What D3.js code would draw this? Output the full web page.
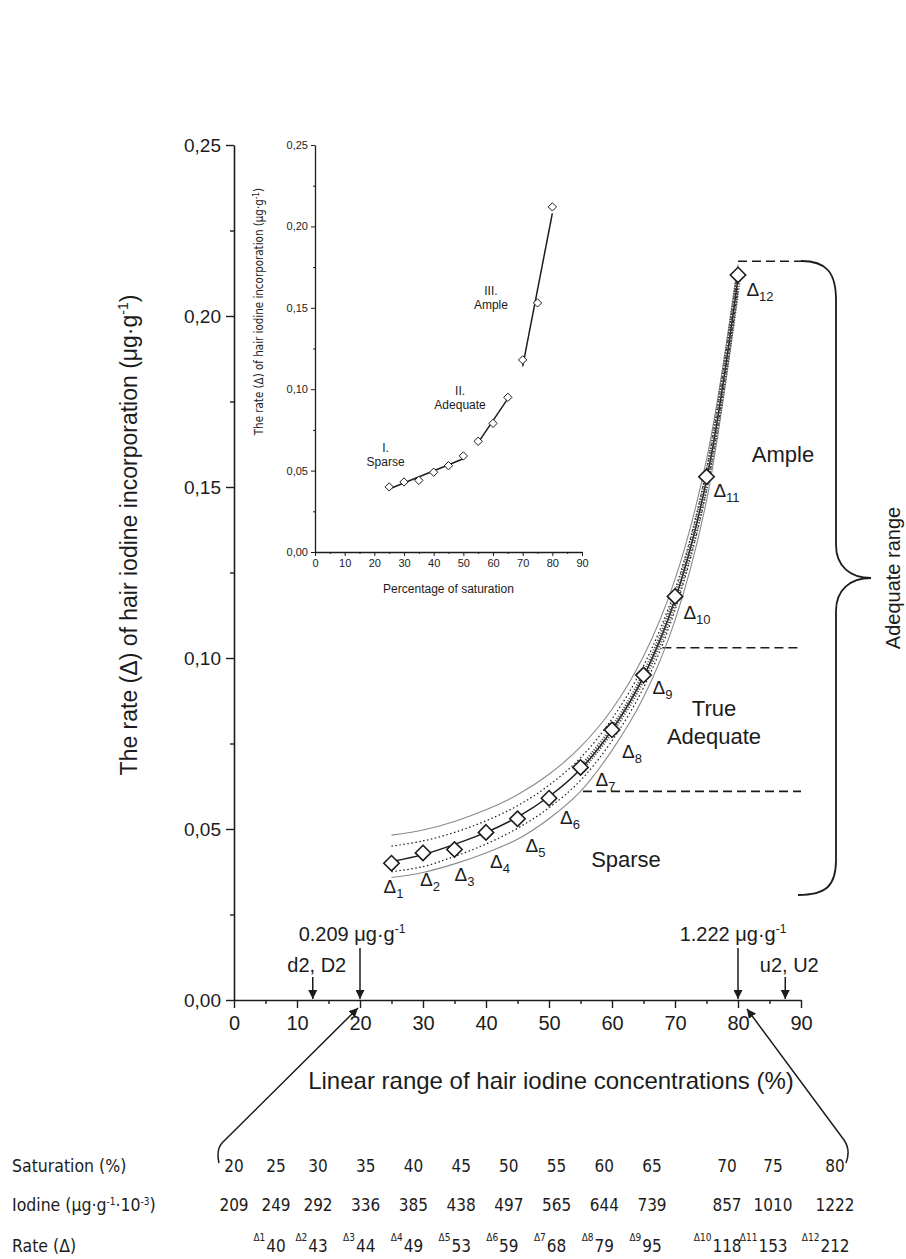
<!DOCTYPE html>
<html>
<head>
<meta charset="utf-8">
<script src="https://cdn.jsdelivr.net/npm/d3@7"></script>
<style>
  body { margin: 0; background: #fff; }
  svg { display: block; font-family: "Liberation Sans", Arial, sans-serif; }
</style>
</head>
<body>
<svg id="chart" width="906" height="1259"></svg>
<script>
// ---- data ----
const saturation = [25, 30, 35, 40, 45, 50, 55, 60, 65, 70, 75, 80];
const rate = [0.040, 0.043, 0.044, 0.049, 0.053, 0.059, 0.068, 0.079, 0.095, 0.118, 0.153, 0.212];
const fitRate = [0.0405, 0.0425, 0.0455, 0.049, 0.0535, 0.0595, 0.0675, 0.079, 0.0945, 0.117, 0.152, 0.211];
const outerUpper = [0.0482, 0.0497, 0.0522, 0.0556, 0.0600, 0.0660, 0.0740, 0.0850, 0.1005, 0.1230, 0.1580, 0.2150];
const innerUpper = [0.0450, 0.0465, 0.0490, 0.0524, 0.0568, 0.0628, 0.0708, 0.0822, 0.0977, 0.1200, 0.1550, 0.2135];
const innerLower = [0.0375, 0.0390, 0.0420, 0.0456, 0.0502, 0.0562, 0.0642, 0.0758, 0.0913, 0.1140, 0.1490, 0.2085];
const outerLower = [0.0358, 0.0373, 0.0398, 0.0430, 0.0470, 0.0530, 0.0610, 0.0730, 0.0885, 0.1110, 0.1460, 0.2070];

const yTicks = [0, 0.05, 0.10, 0.15, 0.20, 0.25];
const yMinor = [0.025, 0.075, 0.125, 0.175, 0.225];
const xTicks = [0, 10, 20, 30, 40, 50, 60, 70, 80, 90];
const xMinor = [5, 15, 25, 35, 45, 55, 65, 75, 85];

// zone boundaries (dashed), each starts on the curve
const zoneRate = [0.061, 0.103, 0.216];
const zoneFrom = [55.4, 68, 80];

// arrows on x axis
const markX = [12.5, 20, 80, 87.5];
const markText = ["d2, D2", "0.209", "1.222", "u2, U2"];

// inset regression segments
const fitNames = [["I.", "Sparse"], ["II.", "Adequate"], ["III.", "Ample"]];
const fitX = [[25, 50], [55, 65], [70, 80]];
const fitY = [[0.0387, 0.0573], [0.0672, 0.0942], [0.1140, 0.2080]];

// table
const tableSat = [20, 25, 30, 35, 40, 45, 50, 55, 60, 65, 70, 75, 80];
const tableIodine = [209, 249, 292, 336, 385, 438, 497, 565, 644, 739, 857, 1010, 1222];
const tableRate = [40, 43, 44, 49, 53, 59, 68, 79, 95, 118, 153, 212];

// ---- layout ----
const svg = d3.select("#chart");
const INK = "#1c1c1c";
const NARROW = "Liberation Sans Narrow, DejaVu Sans Condensed, sans-serif";

const x = d3.scaleLinear().domain([0, 90]).range([234, 801]);
const y = d3.scaleLinear().domain([0, 0.25]).range([1000, 145]);

const fmt = d => d3.format(".2f")(d).replace(".", ",");

function styleAxis(g, size) {
  g.select(".domain").attr("stroke", INK).attr("stroke-width", 1.6);
  g.selectAll(".tick line").attr("stroke", INK).attr("stroke-width", 1.4);
  g.selectAll(".tick text").attr("fill", INK).attr("font-size", size)
    .attr("font-family", "Liberation Sans, Arial, sans-serif");
}

// main axes
const gy = svg.append("g").attr("transform", `translate(${x(0)},0)`)
  .call(d3.axisLeft(y).tickValues(yTicks).tickFormat(fmt).tickSize(8).tickSizeOuter(0).tickPadding(5));
styleAxis(gy, 19);
const gyMinor = svg.append("g").attr("transform", `translate(${x(0)},0)`)
  .call(d3.axisLeft(y).tickValues(yMinor).tickFormat("").tickSize(4).tickSizeOuter(0));
styleAxis(gyMinor, 0);
gyMinor.select(".domain").remove();

const gx = svg.append("g").attr("transform", `translate(0,${y(0)})`)
  .call(d3.axisBottom(x).tickValues(xTicks).tickSize(8).tickSizeOuter(0).tickPadding(8));
styleAxis(gx, 20);
const gxMinor = svg.append("g").attr("transform", `translate(0,${y(0)})`)
  .call(d3.axisBottom(x).tickValues(xMinor).tickFormat("").tickSize(4).tickSizeOuter(0));
styleAxis(gxMinor, 0);
gxMinor.select(".domain").remove();

// axis titles
svg.append("text")
  .attr("transform", "translate(137,535) rotate(-90)")
  .attr("text-anchor", "middle").attr("fill", INK).attr("font-size", 23)
  .html('The rate (Δ) of hair iodine incorporation (μg·g<tspan dy="-9" font-size="14">-1</tspan><tspan dy="9">)</tspan>');

svg.append("text")
  .attr("x", 551).attr("y", 1089)
  .attr("text-anchor", "middle").attr("fill", INK).attr("font-size", 24)
  .text("Linear range of hair iodine concentrations (%)");

// zone dashed lines
svg.selectAll(".zone").data(zoneRate).join("line")
  .attr("x1", (d, i) => x(zoneFrom[i])).attr("x2", x(90))
  .attr("y1", d => y(d)).attr("y2", d => y(d))
  .attr("stroke", INK).attr("stroke-width", 1.6).attr("stroke-dasharray", "9,5");

// bands and fit
const pts = arr => saturation.map((s, i) => [s, arr[i]]);
const line = d3.line().x(d => x(d[0])).y(d => y(d[1])).curve(d3.curveCatmullRom);

[outerUpper, outerLower].forEach(b => svg.append("path").attr("d", line(pts(b)))
  .attr("fill", "none").attr("stroke", "#8a8a8a").attr("stroke-width", 1.1));
[innerUpper, innerLower].forEach(b => svg.append("path").attr("d", line(pts(b)))
  .attr("fill", "none").attr("stroke", INK).attr("stroke-width", 1.2).attr("stroke-dasharray", "1.5,2.5"));
svg.append("path").attr("d", line(pts(fitRate))).attr("fill", "none")
  .attr("stroke", INK).attr("stroke-width", 1.5);
// hatched look of the steep part of the fit
svg.append("path").attr("d", line(pts(fitRate).slice(6))).attr("fill", "none")
  .attr("stroke", "#444").attr("stroke-width", 6).attr("stroke-dasharray", "1,1.6");

// diamonds
const diamond = d3.symbol().type(d3.symbolDiamond2).size(150);
svg.selectAll(".pt").data(saturation).join("path")
  .attr("transform", (d, i) => `translate(${x(d)},${y(rate[i])})`)
  .attr("d", diamond).attr("fill", "#fff").attr("stroke", INK).attr("stroke-width", 1.6);

// Δ labels
const labelOff = [[2, 24], [7, 27], [10, 25], [14, 30], [18, 27], [21, 20], [25, 13], [20, 22], [19, 13], [22, 17], [20, 14], [22, 15]];
svg.selectAll(".dl").data(saturation).join("text")
  .attr("x", (d, i) => x(d) + labelOff[i][0])
  .attr("y", (d, i) => y(rate[i]) + labelOff[i][1] + 6)
  .attr("text-anchor", "middle").attr("fill", INK).attr("font-size", 19)
  .html((d, i) => `Δ<tspan dy="5" font-size="13">${i + 1}</tspan>`);

// zone names
const zoneText = [
  { t: ["Ample"], x: 783, y: 462 },
  { t: ["True", "Adequate"], x: 714, y: 716 },
  { t: ["Sparse"], x: 626, y: 867 }
];
zoneText.forEach(z => {
  const tx = svg.append("text").attr("text-anchor", "middle").attr("fill", INK).attr("font-size", 22);
  z.t.forEach((s, k) => tx.append("tspan").attr("x", z.x).attr("y", z.y + k * 28).text(s));
});

// brace
svg.append("path")
  .attr("d", "M801,261 C826,261 836,272 836,300 L836,545 C836,566 850,578 871,578 C850,578 836,590 836,611 L836,860 C836,886 826,895 798,895")
  .attr("fill", "none").attr("stroke", INK).attr("stroke-width", 1.8);
svg.append("text")
  .attr("transform", "translate(900,578) rotate(-90)")
  .attr("text-anchor", "middle").attr("fill", INK).attr("font-size", 20)
  .text("Adequate range");

// arrowheads
const defs = svg.append("defs");
defs.append("marker").attr("id", "ah").attr("viewBox", "0 0 10 10")
  .attr("refX", 10).attr("refY", 5).attr("markerWidth", 9).attr("markerHeight", 9)
  .attr("markerUnits", "userSpaceOnUse").attr("orient", "auto")
  .append("path").attr("d", "M0,0 L10,5 L0,10 Z").attr("fill", INK);

// vertical arrows on the x axis
const arrowTop = [977, 948, 948, 977];
svg.selectAll(".va").data(markX).join("line")
  .attr("x1", d => x(d)).attr("x2", d => x(d))
  .attr("y1", (d, i) => arrowTop[i]).attr("y2", y(0) - 1)
  .attr("stroke", INK).attr("stroke-width", 1.5).attr("marker-end", "url(#ah)");

// arrow labels
svg.append("text").attr("x", x(12.5) + 4).attr("y", 972).attr("text-anchor", "middle")
  .attr("fill", INK).attr("font-size", 20).text(markText[0]);
svg.append("text").attr("x", x(87.5) + 4).attr("y", 972).attr("text-anchor", "middle")
  .attr("fill", INK).attr("font-size", 20).text(markText[3]);
svg.append("text").attr("x", x(20) - 8).attr("y", 941).attr("text-anchor", "middle")
  .attr("fill", INK).attr("font-size", 20)
  .html(`${markText[1]} μg·g<tspan dy="-8" font-size="12">-1</tspan>`);
svg.append("text").attr("x", x(80) - 5).attr("y", 941).attr("text-anchor", "middle")
  .attr("fill", INK).attr("font-size", 20)
  .html(`${markText[2]} μg·g<tspan dy="-8" font-size="12">-1</tspan>`);

// ---- inset ----
const ix = d3.scaleLinear().domain([0, 90]).range([315, 582]);
const iy = d3.scaleLinear().domain([0, 0.25]).range([552, 145]);

const igy = svg.append("g").attr("transform", `translate(${ix(0)},0)`)
  .call(d3.axisLeft(iy).tickValues(yTicks).tickFormat(fmt).tickSize(4).tickSizeOuter(0).tickPadding(3));
styleAxis(igy, 11);
const igyMinor = svg.append("g").attr("transform", `translate(${ix(0)},0)`)
  .call(d3.axisLeft(iy).tickValues(yMinor).tickFormat("").tickSize(2).tickSizeOuter(0));
styleAxis(igyMinor, 0);
igyMinor.select(".domain").remove();
const igx = svg.append("g").attr("transform", `translate(0,${iy(0)})`)
  .call(d3.axisBottom(ix).tickValues(xTicks).tickSize(4).tickSizeOuter(0).tickPadding(3));
styleAxis(igx, 11);
const igxMinor = svg.append("g").attr("transform", `translate(0,${iy(0)})`)
  .call(d3.axisBottom(ix).tickValues(xMinor).tickFormat("").tickSize(2).tickSizeOuter(0));
styleAxis(igxMinor, 0);
igxMinor.select(".domain").remove();
[igy, igx, igyMinor, igxMinor].forEach(g => {
  g.select(".domain").attr("stroke-width", 1.3);
  g.selectAll(".tick line").attr("stroke-width", 1);
});

svg.append("text").attr("x", (ix(0) + ix(90)) / 2).attr("y", 593)
  .attr("text-anchor", "middle").attr("fill", INK).attr("font-size", 12)
  .text("Percentage of saturation");
svg.append("text")
  .attr("transform", "translate(263,188) rotate(-90)")
  .attr("text-anchor", "end").attr("fill", INK).attr("font-size", 11.5)
  .attr("font-family", NARROW)
  .html('The rate (Δ) of hair iodine incorporation (μg·g<tspan dy="-4" font-size="8">-1</tspan><tspan dy="4">)</tspan>');

fitX.forEach((fx, k) => {
  svg.append("line")
    .attr("x1", ix(fx[0])).attr("y1", iy(fitY[k][0]))
    .attr("x2", ix(fx[1])).attr("y2", iy(fitY[k][1]))
    .attr("stroke", INK).attr("stroke-width", 1.5);
});
const idiamond = d3.symbol().type(d3.symbolDiamond2).size(44);
svg.selectAll(".ipt").data(saturation).join("path")
  .attr("transform", (d, i) => `translate(${ix(d)},${iy(rate[i])})`)
  .attr("d", idiamond).attr("fill", "#fff").attr("stroke", INK).attr("stroke-width", 1);

const fitLabelAt = [[23.8, 0.0614], [48.9, 0.0964], [59.3, 0.158]];
fitNames.forEach((nm, k) => {
  const t = svg.append("text").attr("text-anchor", "middle").attr("fill", INK).attr("font-size", 12);
  nm.forEach((s, j) => t.append("tspan")
    .attr("x", ix(fitLabelAt[k][0])).attr("y", iy(fitLabelAt[k][1]) + j * 14).text(s));
});

// ---- table ----
const col = d3.scaleLinear().domain([20, 30, 65, 70, 75, 80]).range([234, 318, 652, 727, 773, 835]);
const rowY = [1172, 1211, 1252];

const rowLabels = svg.append("g").attr("fill", INK).attr("font-size", 17.5).attr("font-family", NARROW);
rowLabels.append("text").attr("x", 12).attr("y", rowY[0]).text("Saturation (%)");
rowLabels.append("text").attr("x", 12).attr("y", rowY[1])
  .html('Iodine (μg·g<tspan dy="-6" font-size="10">-1</tspan><tspan dy="6">·10</tspan><tspan dy="-6" font-size="10">-3</tspan><tspan dy="6">)</tspan>');
rowLabels.append("text").attr("x", 12).attr("y", rowY[2]).text("Rate (Δ)");

const cell = sel => sel.attr("text-anchor", "middle").attr("fill", INK)
  .attr("font-size", 17).attr("font-family", NARROW);
svg.selectAll(".ts").data(tableSat).join("text")
  .attr("x", d => col(d)).attr("y", rowY[0]).call(cell).text(d => d);
svg.selectAll(".ti").data(tableIodine).join("text")
  .attr("x", (d, i) => col(tableSat[i])).attr("y", rowY[1]).call(cell).text(d => d);
const rateTxt = svg.selectAll(".tr").data(tableRate).join("text")
  .attr("x", (d, i) => col(saturation[i])).attr("y", rowY[2]).call(cell).text(d => d);
rateTxt.each(function (d, i) {
  const w = this.getComputedTextLength();
  svg.append("text").attr("x", col(saturation[i]) - w / 2 - 1).attr("y", rowY[2] - 11)
    .attr("text-anchor", "end").attr("fill", INK).attr("font-size", 10).attr("font-family", NARROW)
    .text("Δ" + (i + 1));
});

// connectors from the table to the axis
svg.append("path")
  .attr("d", `M219,1163 Q216,1150 222,1143 L${x(20) - 2},${y(0) + 8}`)
  .attr("fill", "none").attr("stroke", INK).attr("stroke-width", 1.5).attr("marker-end", "url(#ah)");
svg.append("path")
  .attr("d", `M846,1163 Q851,1150 844,1140 L${x(80) + 9},${y(0) + 9}`)
  .attr("fill", "none").attr("stroke", INK).attr("stroke-width", 1.5).attr("marker-end", "url(#ah)");
</script>
</body>
</html>
